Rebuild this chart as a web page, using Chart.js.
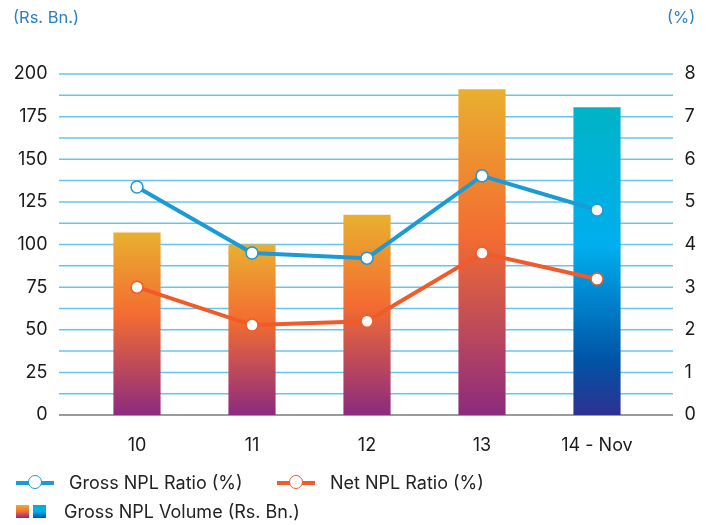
<!DOCTYPE html>
<html lang="en">
  <head>
    <meta charset="UTF-8" />
    <title>Gross NPL</title>
    <script src="https://cdn.jsdelivr.net/npm/chart.js@4.4.1/dist/chart.umd.min.js"></script>
    <style>
      body { margin: 0; background: #fff; font-family: Inter, "Liberation Sans", Arial, sans-serif; }
      .wrap { position: relative; width: 708px; height: 525px; }
      canvas { position: absolute; left: 0; top: 0; }
      .unit { position: absolute; top: 7px; font-size: 16.5px; color: #2b7fc4; }
      .legend { position: absolute; font-size: 18px; color: #222; display: flex; align-items: center; }
      .lineicon { position: relative; width: 38px; height: 4px; margin-right: 15px; }
      .lineicon span { position: absolute; left: 12px; top: -6px; width: 12px; height: 12px; border-radius: 50%; background: #fff; border: 1.5px solid; }
      .sq { width: 13px; height: 13px; margin-right: 4px; }
    </style>
  </head>
  <body>
    <div class="wrap">
      <canvas id="nplChart" width="708" height="525"></canvas>
      <div class="unit" style="left: 13px">(Rs. Bn.)</div>
      <div class="unit" style="left: 667px">(%)</div>
      <div class="legend" style="left: 16px; top: 472px">
        <div class="lineicon" style="background: #1b9ad6"><span style="border-color: #1b9ad6"></span></div>
        Gross NPL Ratio (%)
      </div>
      <div class="legend" style="left: 277px; top: 472px">
        <div class="lineicon" style="background: #f15a29"><span style="border-color: #f15a29"></span></div>
        Net NPL Ratio (%)
      </div>
      <div class="legend" style="left: 16px; top: 501px">
        <div class="sq" style="background: linear-gradient(#e9b02f, #f36c31, #8c2a7f)"></div>
        <div class="sq" style="background: linear-gradient(#00b4c6, #00aeef, #0054a6)"></div>
        <span style="margin-left: 14px">Gross NPL Volume (Rs. Bn.)</span>
      </div>
    </div>
  </body>
  <script>
    const categories = ["10", "11", "12", "13", "14 - Nov"];
    const grossVolume = [107, 100, 117.5, 191, 180.5]; // Rs. Bn.
    const grossRatio = [5.35, 3.8, 3.68, 5.61, 4.81]; // %
    const netRatio = [3.0, 2.11, 2.2, 3.8, 3.19]; // %
    const volumeMax = 200, volumeStep = 25;
    const ratioMax = 8, ratioStep = 1;

    const warmStops = [[0, "#e9b02f"], [0.45, "#f36c31"], [1, "#8c2a7f"]];
    const coolStops = [[0, "#00b4c6"], [0.45, "#00aeef"], [0.82, "#0054a6"], [1, "#2e3192"]];

    function barGradient(context) {
      const chart = context.chart;
      if (!chart.chartArea || context.dataIndex === undefined) return "#f36c31";
      const y = chart.scales.y;
      const top = y.getPixelForValue(context.raw);
      const bottom = y.getPixelForValue(0);
      const g = chart.ctx.createLinearGradient(0, top, 0, bottom);
      const stops = context.dataIndex === categories.length - 1 ? coolStops : warmStops;
      stops.forEach(([p, c]) => g.addColorStop(p, c));
      return g;
    }

    // light blue gridlines every half step, wider than the plot area
    const gridPlugin = {
      id: "grid",
      beforeDatasetsDraw(chart) {
        const { ctx, chartArea, scales } = chart;
        const x0 = chartArea.left - 20.5, x1 = chartArea.right + 18.5;
        ctx.save();
        for (let v = volumeStep / 2; v <= volumeMax; v += volumeStep / 2) {
          const py = scales.y.getPixelForValue(v);
          ctx.strokeStyle = "rgba(41,171,226,0.7)";
          ctx.lineWidth = 1.5;
          ctx.beginPath();
          ctx.moveTo(x0, py);
          ctx.lineTo(x1, py);
          ctx.stroke();
        }
        const p0 = scales.y.getPixelForValue(0);
        ctx.strokeStyle = "#7a7a7a";
        ctx.lineWidth = 1.5;
        ctx.beginPath();
        ctx.moveTo(x0, p0);
        ctx.lineTo(x1, p0);
        ctx.stroke();
        ctx.restore();
      },
    };

    const tickFont = { family: "Inter, 'Liberation Sans', Arial, sans-serif", size: 18 };

    new Chart(document.getElementById("nplChart"), {
      data: {
        labels: categories,
        datasets: [
          {
            type: "line",
            label: "Gross NPL Ratio (%)",
            data: grossRatio,
            yAxisID: "y1",
            borderColor: "#1b9ad6",
            borderWidth: 4,
            pointRadius: 6,
            pointBorderWidth: 1.5,
            pointBackgroundColor: "#fff",
            pointBorderColor: "#1b9ad6",
            order: 0,
          },
          {
            type: "line",
            label: "Net NPL Ratio (%)",
            data: netRatio,
            yAxisID: "y1",
            borderColor: "#f15a29",
            borderWidth: 4,
            pointRadius: 6,
            pointBorderWidth: 1.5,
            pointBackgroundColor: "#fff",
            pointBorderColor: "#f15a29",
            order: 0,
          },
          {
            type: "bar",
            label: "Gross NPL Volume (Rs. Bn.)",
            data: grossVolume,
            yAxisID: "y",
            backgroundColor: barGradient,
            categoryPercentage: 1,
            barPercentage: 0.41,
            order: 1,
          },
        ],
      },
      options: {
        responsive: false,
        animation: false,
        layout: { padding: { top: 74, left: 0, right: 0, bottom: 0 } },
        plugins: { legend: { display: false }, tooltip: { enabled: false } },
        scales: {
          x: {
            grid: { display: false, drawTicks: false },
            border: { display: false },
            ticks: { color: "#1a1a1a", font: tickFont, padding: 20 },
            afterFit: (s) => { s.height = 110; },
          },
          y: {
            position: "left",
            min: 0,
            max: volumeMax,
            grid: { display: false, drawTicks: false },
            border: { display: false },
            ticks: { stepSize: volumeStep, color: "#1a1a1a", font: tickFont, padding: 32 },
            afterFit: (s) => { s.width = 79.5; },
          },
          y1: {
            position: "right",
            min: 0,
            max: ratioMax,
            grid: { display: false, drawTicks: false },
            border: { display: false },
            ticks: { stepSize: ratioStep, color: "#1a1a1a", font: tickFont, padding: 30 },
            afterFit: (s) => { s.width = 53.5; },
          },
        },
      },
      plugins: [gridPlugin],
    });
  </script>
</html>
